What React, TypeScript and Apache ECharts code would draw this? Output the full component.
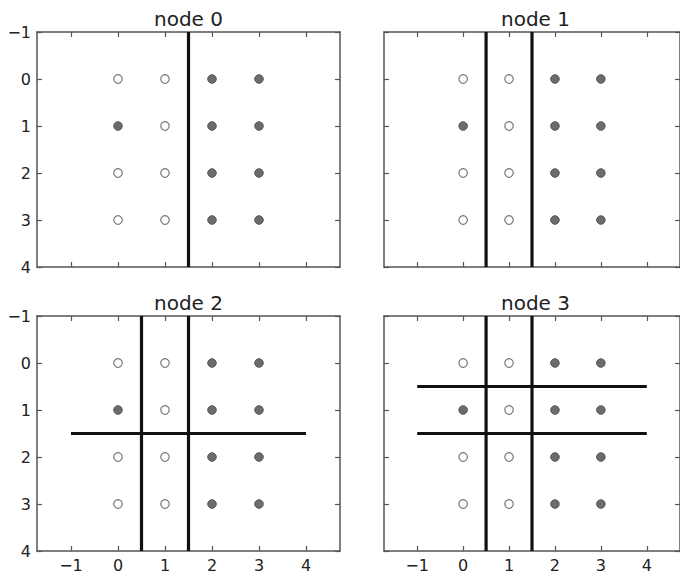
import React, { useEffect, useRef } from "react";
import * as echarts from "echarts";

const titles = ["node 0", "node 1", "node 2", "node 3"];
const pointXs = [0, 1, 2, 3];
const pointYs = [0, 1, 2, 3];
// filled[y][x]: 1 = gray filled, 0 = white
const filled = [
  [0, 0, 1, 1],
  [1, 0, 1, 1],
  [0, 0, 1, 1],
  [0, 0, 1, 1],
];
const nodeVerticals = [[1.5], [0.5, 1.5], [0.5, 1.5], [0.5, 1.5]];
const nodeHorizontals = [[], [], [1.5], [0.5, 1.5]];
const lineSpan = [-1, 4];
const xTicks = [-1, 0, 1, 2, 3, 4];

const GRIDS = [
  { left: 37, top: 32 },
  { left: 384, top: 32 },
  { left: 37, top: 316 },
  { left: 384, top: 316 },
];
const GW = 303;
const GH = 235;
const XMIN = 1.5 - GW / 47 / 2;
const XMAX = 1.5 + GW / 47 / 2;
const FRAME = "#555";
const FONT = "DejaVu Sans";

const fmt = (v: number) => String(v).replace("-", "\u2212");

export default function App() {
  const ref = useRef<HTMLDivElement>(null);
  useEffect(() => {
    const chart = echarts.init(ref.current!, null, { renderer: "svg" });
    const grid: any[] = [];
    const xAxis: any[] = [];
    const yAxis: any[] = [];
    const series: any[] = [];
    const graphic: any[] = [];
    const tick = () => ({ show: true, inside: true, length: 5, lineStyle: { color: "#555", width: 1.2 } });
    GRIDS.forEach((g, i) => {
      grid.push({ left: g.left, top: g.top, width: GW, height: GH, containLabel: false });
      graphic.push({
        type: "text",
        x: g.left + GW / 2,
        y: g.top - 3,
        style: {
          text: titles[i],
          font: `normal 20px '${FONT}'`,
          fill: "#222",
          align: "center",
          verticalAlign: "bottom",
        },
      });
      const showX = i >= 2;
      const showY = i % 2 === 0;
      ["bottom", "top"].forEach((pos) => {
        xAxis.push({
          type: "value",
          gridIndex: i,
          position: pos,
          min: XMIN,
          max: XMAX,
          axisLine: { show: true, onZero: false, lineStyle: { color: FRAME, width: 1.5 } },
          axisTick: { ...tick(), customValues: xTicks },
          axisLabel: {
            show: pos === "bottom" && showX,
            customValues: xTicks,
            formatter: fmt,
            fontFamily: FONT,
            fontSize: 16,
            color: "#222",
            margin: 6,
          },
          splitLine: { show: false },
        });
      });
      ["left", "right"].forEach((pos) => {
        yAxis.push({
          type: "value",
          gridIndex: i,
          position: pos,
          inverse: true,
          min: -1,
          max: 4,
          interval: 1,
          axisLine: { show: true, onZero: false, lineStyle: { color: FRAME, width: 1.5 } },
          axisTick: tick(),
          axisLabel: {
            show: pos === "left" && showY,
            formatter: fmt,
            fontFamily: FONT,
            fontSize: 16,
            color: "#222",
            margin: 6,
          },
          splitLine: { show: false },
        });
      });
      const xi = i * 2;
      const yi = i * 2;
      nodeVerticals[i].forEach((v) => {
        series.push({
          type: "line",
          xAxisIndex: xi,
          yAxisIndex: yi,
          data: [[v, lineSpan[0]], [v, lineSpan[1]]],
          symbol: "none",
          lineStyle: { color: "#111", width: 3.2 },
          silent: true,
          z: 1,
        });
      });
      nodeHorizontals[i].forEach((h) => {
        series.push({
          type: "line",
          xAxisIndex: xi,
          yAxisIndex: yi,
          data: [[lineSpan[0], h], [lineSpan[1], h]],
          symbol: "none",
          lineStyle: { color: "#111", width: 3.2 },
          silent: true,
          z: 1,
        });
      });
      const white: number[][] = [];
      const gray: number[][] = [];
      pointYs.forEach((y) =>
        pointXs.forEach((x) => {
          (filled[y][x] ? gray : white).push([x, y]);
        })
      );
      series.push({
        type: "scatter",
        xAxisIndex: xi,
        yAxisIndex: yi,
        data: white,
        symbolSize: 8.5,
        itemStyle: { color: "#fff", borderColor: "#777", borderWidth: 1.2, opacity: 1 },
        z: 2,
      });
      series.push({
        type: "scatter",
        xAxisIndex: xi,
        yAxisIndex: yi,
        data: gray,
        symbolSize: 8.5,
        itemStyle: { color: "#6c6c6c", borderColor: "#555", borderWidth: 1, opacity: 1 },
        z: 2,
      });
    });
    chart.setOption({
      animation: false,
      backgroundColor: "#fff",
      grid,
      xAxis,
      yAxis,
      series,
      graphic,
    });
    return () => chart.dispose();
  }, []);
  return (
    <div
      ref={ref}
      style={{ position: "fixed", left: 0, top: 0, width: 680, height: 577 }}
    />
  );
}
